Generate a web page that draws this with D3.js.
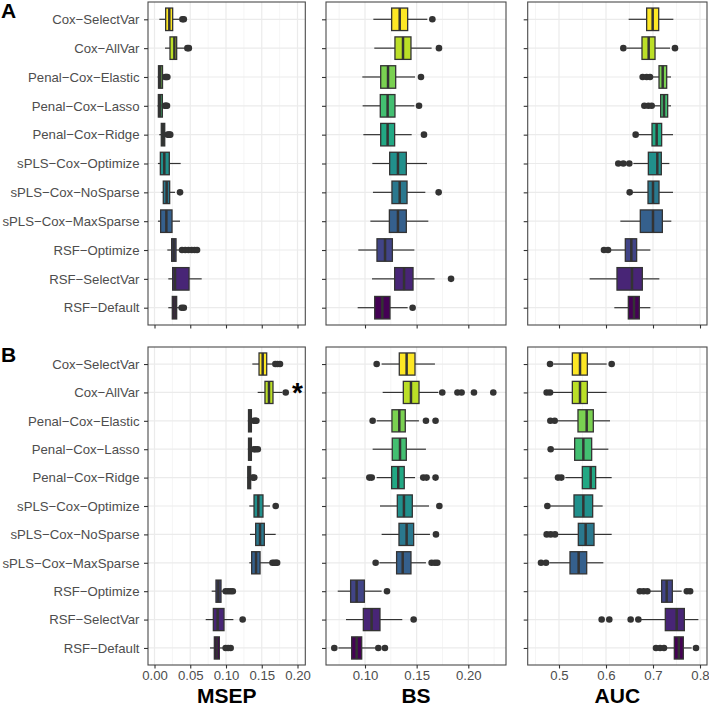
<!DOCTYPE html>
<html><head><meta charset="utf-8">
<script src="https://cdn.jsdelivr.net/npm/d3@7"></script>
<style>body{margin:0;background:#fff}svg{display:block}text{font-family:"Liberation Sans",Arial,Helvetica,sans-serif}</style>
</head><body>
<script>
// ---------- DATA ----------
const categories = ["Cox\u2212SelectVar","Cox\u2212AllVar","Penal\u2212Cox\u2212Elastic","Penal\u2212Cox\u2212Lasso","Penal\u2212Cox\u2212Ridge","sPLS\u2212Cox\u2212Optimize","sPLS\u2212Cox\u2212NoSparse","sPLS\u2212Cox\u2212MaxSparse","RSF\u2212Optimize","RSF\u2212SelectVar","RSF\u2212Default"];
const colors = ["#FDE725","#BBDF27","#7AD151","#43BF71","#22A884","#21908C","#2A788E","#35608D","#414487","#482576","#440154"];
const metrics = ["MSEP","BS","AUC"];
const panelLabels = ["A","B"];
const msepTicks = [0,0.05,0.10,0.15,0.20];
const bsTicks = [0.10,0.15,0.20];
const aucTicks = [0.5,0.6,0.7,0.8];
// five-number stats: [lower whisker, Q1, median, Q3, upper whisker]
const msepA = [[0.0068,0.0156,0.0207,0.0254,0.0347],[0.0147,0.0217,0.0278,0.031,0.0427],[0.0042,0.0056,0.008,0.0112,0.013],[0.0042,0.0054,0.0078,0.011,0.0128],[0.0067,0.0095,0.012,0.0143,0.016],[0.0048,0.0082,0.0137,0.0207,0.0366],[0.0095,0.0123,0.017,0.0212,0.0287],[0.0048,0.0086,0.0166,0.0245,0.0357],[0.0179,0.024,0.0268,0.0301,0.0347],[0.0193,0.0254,0.0287,0.0483,0.066],[0.0193,0.0249,0.028,0.031,0.0347]];
const msepAOut = [[0.039,0.041],[0.046,0.048],[0.015,0.0165,0.018],[0.0145,0.016,0.0175],[0.0185,0.0205,0.022],[],[0.0357],[],[0.0385,0.043,0.0475,0.052,0.056,0.0595],[],[0.038,0.041]];
const msepB = [[0.1368,0.1462,0.1513,0.1569,0.1648],[0.1443,0.1545,0.1601,0.1657,0.1788],[0.1305,0.1315,0.1335,0.1355,0.137],[0.1305,0.1315,0.1335,0.1355,0.137],[0.1295,0.1305,0.132,0.1345,0.136],[0.1326,0.1392,0.1452,0.1517,0.1615],[0.1335,0.1415,0.1476,0.1536,0.1695],[0.1326,0.1359,0.142,0.1476,0.1615],[0.080,0.086,0.0893,0.093,0.0977],[0.0716,0.0823,0.0883,0.0972,0.1103],[0.0776,0.0837,0.0869,0.0907,0.0963]];
const msepBOut = [[0.169,0.172,0.1755],[0.1835],[0.139,0.141,0.1425],[0.139,0.1415,0.1445],[0.1375,0.1395],[0.1695],[],[0.165,0.1675,0.170,0.1715],[0.0995,0.103,0.1065,0.1095],[0.1233],[0.0995,0.103,0.1065]];
const bsA = [[0.1081,0.1258,0.1336,0.1413,0.1603],[0.109,0.129,0.1368,0.1445,0.1645],[0.0974,0.1152,0.1223,0.1297,0.1484],[0.0977,0.1148,0.1219,0.129,0.1478],[0.0984,0.1152,0.1219,0.1287,0.1452],[0.1071,0.1239,0.1319,0.14,0.16],[0.1077,0.1261,0.1336,0.1407,0.1584],[0.1052,0.1236,0.1319,0.14,0.1613],[0.0935,0.1116,0.1194,0.1265,0.1478],[0.1068,0.1287,0.1378,0.1465,0.1674],[0.0929,0.1094,0.1168,0.1242,0.1413]];
const bsAOut = [[0.1652],[0.1716],[0.1542],[0.1523],[0.1571],[],[0.1713],[],[],[0.1833],[0.1461]];
const bsB = [[0.1161,0.1332,0.1403,0.1484,0.1677],[0.1171,0.1371,0.1445,0.1523,0.171],[0.1113,0.1261,0.1332,0.139,0.1522],[0.1074,0.1264,0.1339,0.14,0.159],[0.1113,0.1258,0.1322,0.138,0.1484],[0.1145,0.1313,0.1377,0.1458,0.162],[0.1161,0.1329,0.1403,0.1471,0.1629],[0.1139,0.1306,0.1365,0.1445,0.159],[0.0736,0.0861,0.0919,0.0994,0.1161],[0.0816,0.0984,0.1064,0.1145,0.1361],[0.0742,0.0871,0.0919,0.0968,0.110]];
const bsBOut = [[0.1113],[0.1748,0.1895,0.1935,0.2055,0.2242],[0.1074,0.159,0.1683],[],[0.1042,0.1065,0.1564,0.1596,0.1683],[0.172],[0.1687],[0.1103,0.1645,0.1677,0.170],[0.1213],[0.1471],[0.0703,0.1129,0.1193]];
const aucA = [[0.6482,0.6865,0.6993,0.7121,0.7433],[0.644,0.6766,0.6908,0.7043,0.7362],[0.6993,0.7128,0.7206,0.7291,0.7383],[0.7021,0.7163,0.7234,0.7312,0.7383],[0.6688,0.6979,0.7078,0.7184,0.7426],[0.6582,0.6901,0.7092,0.7177,0.7348],[0.6567,0.6894,0.70,0.7128,0.7426],[0.6305,0.673,0.70,0.7199,0.739],[0.6085,0.6411,0.6539,0.6652,0.6943],[0.5652,0.6234,0.6553,0.6773,0.7135],[0.6177,0.6475,0.6596,0.6709,0.6943]];
const aucAOut = [[],[0.6369,0.7468],[0.678,0.6865,0.6936],[0.6816,0.6901,0.6972],[0.6631],[0.6262,0.6369,0.6496],[0.6504],[],[0.5957,0.6043],[],[]];
const aucB = [[0.4879,0.5284,0.5447,0.5603,0.6014],[0.4865,0.5284,0.5447,0.5603,0.6014],[0.4965,0.5404,0.5589,0.573,0.6085],[0.4894,0.5333,0.5518,0.5695,0.605],[0.5135,0.5496,0.5674,0.578,0.6121],[0.4809,0.5319,0.5518,0.5716,0.5929],[0.4965,0.5411,0.5567,0.5745,0.6121],[0.4794,0.5234,0.5418,0.5589,0.5943],[0.6935,0.7184,0.7291,0.7411,0.761],[0.6709,0.7262,0.7504,0.7667,0.7965],[0.7255,0.7454,0.755,0.7645,0.7823]];
const aucBOut = [[0.4809,0.6121],[0.4738,0.4809],[0.4816,0.4908],[0.4823],[0.4979,0.505],[0.4752],[0.4738,0.4823,0.4915],[0.4617,0.4723],[0.672,0.680,0.688,0.772,0.779],[0.5908,0.607,0.6525,0.6688],[0.7064,0.715,0.7234,0.7915]];

// ---------- LAYOUT ----------
const W = 709, H = 706;
const colRanges = [[148,305.3],[326,506],[527.7,707]];
const rowRanges = [[2,325],[347,665]];
const FONT = 13.2;
const svg = d3.select("body").append("svg").attr("width",W).attr("height",H);

const xScales = [
  d3.scaleLinear().domain([-0.00909,0.2109]).range(colRanges[0]),
  d3.scaleLinear().domain([0.06225,0.2365]).range(colRanges[1]),
  d3.scaleLinear().domain([0.4334,0.8149]).range(colRanges[2])
];
const majors = [msepTicks, bsTicks, aucTicks];
const minors = [[0.025,0.075,0.125,0.175],[0.075,0.125,0.175,0.225],[0.45,0.55,0.65,0.75]];
const fmts = [d3.format(".2f"), d3.format(".2f"), d3.format(".1f")];
const stats = [[msepA,bsA,aucA],[msepB,bsB,aucB]];
const outs = [[msepAOut,bsAOut,aucAOut],[msepBOut,bsBOut,aucBOut]];

for (let r=0;r<2;r++){
  const y = d3.scalePoint().domain(categories).range(rowRanges[r]).padding(0.6);
  const step = y.step();
  const bh = step*0.78;
  for (let c=0;c<3;c++){
    const x = xScales[c];
    const [x0,x1] = colRanges[c], [y0,y1] = rowRanges[r];
    const g = svg.append("g");
    g.append("rect").attr("x",x0).attr("y",y0).attr("width",x1-x0).attr("height",y1-y0).attr("fill","#fff");
    // grid
    g.selectAll(".mn").data(minors[c]).join("line").attr("x1",d=>x(d)).attr("x2",d=>x(d)).attr("y1",y0).attr("y2",y1).attr("stroke","#F1F1F1").attr("stroke-width",0.7);
    g.selectAll(".mj").data(majors[c]).join("line").attr("x1",d=>x(d)).attr("x2",d=>x(d)).attr("y1",y0).attr("y2",y1).attr("stroke","#EBEBEB").attr("stroke-width",1.2);
    g.selectAll(".hy").data(categories).join("line").attr("x1",x0).attr("x2",x1).attr("y1",d=>y(d)).attr("y2",d=>y(d)).attr("stroke","#EBEBEB").attr("stroke-width",1.2);
    // boxes
    const S = stats[r][c], O = outs[r][c];
    categories.forEach((cat,i)=>{
      const s = S[i], cy = y(cat);
      const bg = g.append("g");
      bg.append("line").attr("x1",x(s[0])).attr("x2",x(s[1])).attr("y1",cy).attr("y2",cy).attr("stroke","#333").attr("stroke-width",1.2);
      bg.append("line").attr("x1",x(s[3])).attr("x2",x(s[4])).attr("y1",cy).attr("y2",cy).attr("stroke","#333").attr("stroke-width",1.2);
      bg.append("rect").attr("x",x(s[1])).attr("y",cy-bh/2).attr("width",Math.max(0.1,x(s[3])-x(s[1]))).attr("height",bh)
        .attr("fill",colors[i]).attr("stroke","#333").attr("stroke-width",1.3);
      bg.append("line").attr("x1",x(s[2])).attr("x2",x(s[2])).attr("y1",cy-bh/2).attr("y2",cy+bh/2).attr("stroke","#333").attr("stroke-width",2.5);
      bg.selectAll("circle").data(O[i]).join("circle").attr("cx",d=>x(d)).attr("cy",cy).attr("r",3.3).attr("fill","#333");
    });
    // border
    g.append("rect").attr("x",x0).attr("y",y0).attr("width",x1-x0).attr("height",y1-y0).attr("fill","none").attr("stroke","#4a4a4a").attr("stroke-width",1.1);
    // x axis
    const xa = d3.axisBottom(x).tickValues(majors[c]).tickSize(3.5).tickPadding(2).tickFormat(r===1?fmts[c]:"");
    const gx = svg.append("g").attr("transform",`translate(0,${y1})`).call(xa);
    gx.select(".domain").remove();
    gx.selectAll(".tick line").attr("stroke","#333").attr("stroke-width",1.1);
    gx.selectAll(".tick text").attr("fill","#4D4D4D").style("font-size",FONT+"px").style("font-family","Liberation Sans, Arial, sans-serif");
    // y axis
    const ya = d3.axisLeft(y).tickSize(4).tickPadding(4.5).tickFormat(c===0?(d=>d):"");
    const gy = svg.append("g").attr("transform",`translate(${x0},0)`).call(ya);
    gy.select(".domain").remove();
    gy.selectAll(".tick line").attr("stroke","#333").attr("stroke-width",1.1);
    gy.selectAll(".tick text").attr("fill","#4D4D4D").style("font-size",FONT+"px").style("font-family","Liberation Sans, Arial, sans-serif");
    if (r===1){
      svg.append("text").attr("x",(x0+x1)/2).attr("y",703).attr("text-anchor","middle")
        .style("font-size","21px").style("font-weight","bold").attr("fill","#000").text(metrics[c]);
    }
  }
}
// panel letters
svg.append("text").attr("x",1).attr("y",18).style("font-size","21px").style("font-weight","bold").text(panelLabels[0]);
svg.append("text").attr("x",1).attr("y",362).style("font-size","21px").style("font-weight","bold").text(panelLabels[1]);
// significance mark
svg.append("text").attr("x",xScales[0](0.2)).attr("y",402).attr("text-anchor","middle").style("font-size","28px").style("font-weight","bold").text("*");
</script>
</body></html>
